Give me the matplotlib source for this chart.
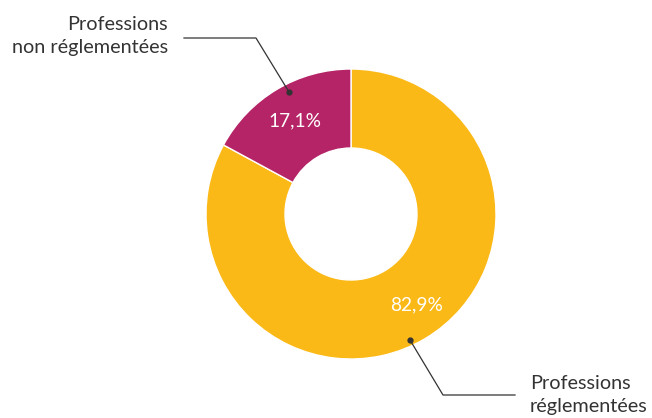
import matplotlib.pyplot as plt

# Données
labels = ["Professions\nréglementées", "Professions\nnon réglementées"]
values = [82.9, 17.1]
colors = ["#FBB917", "#B52466"]

plt.rcParams['font.family'] = ['Lato', 'DejaVu Sans']

W, H = 652, 418
fig = plt.figure(figsize=(W / 100, H / 100), dpi=100)
ax = fig.add_axes([0, 0, 1, 1])
ax.set_xlim(0, W)
ax.set_ylim(0, H)
ax.set_aspect('equal')
ax.axis('off')

cx, cy, r = 351, H - 214, 145

wedges, texts, autotexts = ax.pie(
    values, colors=colors, startangle=90, counterclock=False,
    center=(cx, cy), radius=r,
    wedgeprops=dict(width=r - 66, edgecolor='white', linewidth=1),
    autopct=lambda p: f"{p:.1f}".replace('.', ',') + "%",
    pctdistance=0.75, textprops=dict(color='white', fontsize=13.8))
ax.set_xlim(0, W)
ax.set_ylim(0, H)

# léger décalage de l'étiquette 82,9%
x0, y0 = autotexts[0].get_position()
autotexts[0].set_position((x0 + 10, y0 + 3))

txt = '#333333'
# Légende "non réglementées"
ax.plot([184, 256, 289], [H - 38, H - 38, H - 92], color=txt, lw=0.9)
ax.plot([289], [H - 92], 'o', color=txt, ms=3.5)
ax.text(168, H - 36, labels[1], ha='right', va='center', fontsize=14.3,
        color=txt, linespacing=1.4)

# Légende "réglementées"
ax.plot([410, 443, 515], [H - 340, H - 395, H - 395], color=txt, lw=0.9)
ax.plot([410], [H - 340], 'o', color=txt, ms=3.5)
ax.text(530, H - 395, labels[0], ha='left', va='center', fontsize=14.3,
        color=txt, linespacing=1.4)

fig.savefig("out.png", dpi=100)
